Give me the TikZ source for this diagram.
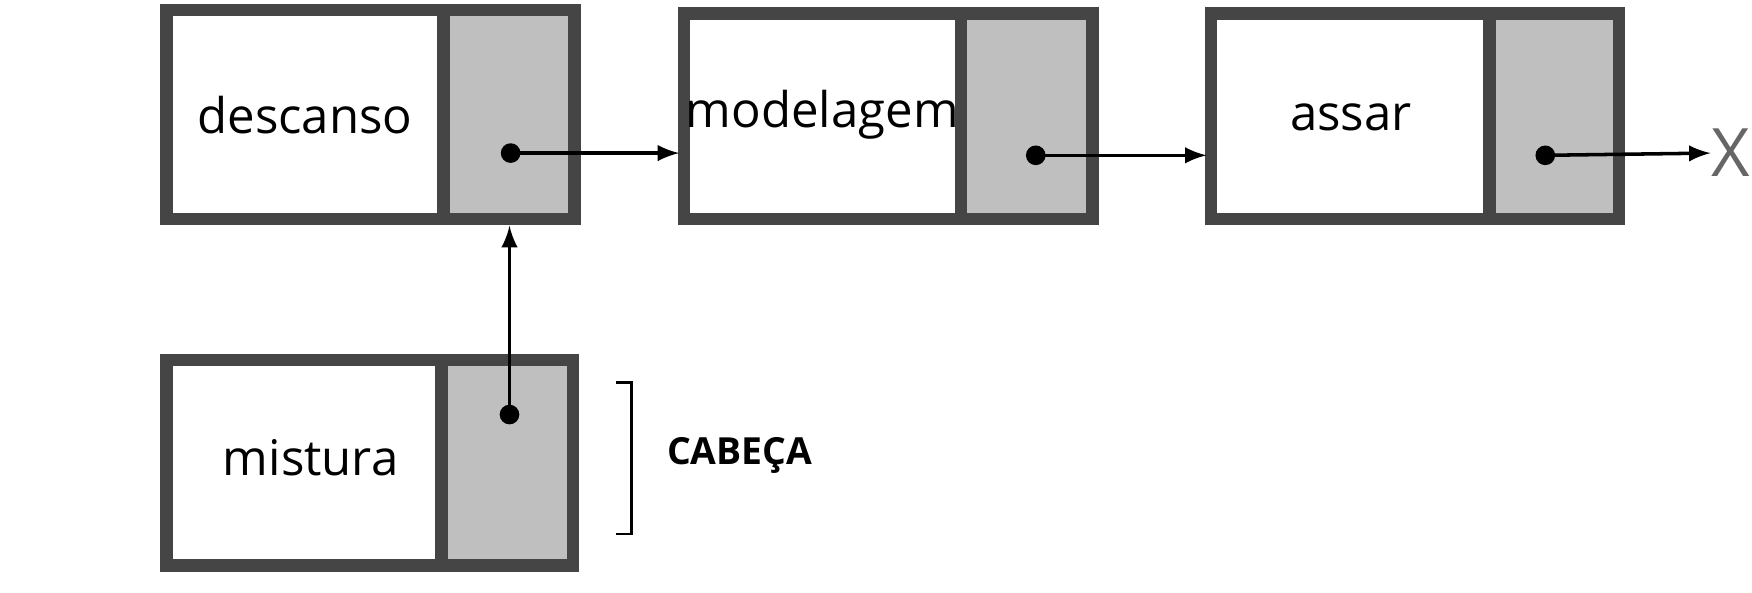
\documentclass[tikz,border=0pt]{standalone}
\usepackage{fontspec}
\setmainfont{Open Sans}
\begin{document}
\begin{tikzpicture}[x=0.01cm,y=-0.01cm,
  frame/.style={draw=black!73,line width=3.2pt},
  cell/.style={frame,fill=white},
  ptr/.style={frame,fill=black!25},
  dotp/.style={circle,fill=black,inner sep=0pt,minimum size=5pt},
  link/.style={-latex,line width=0.9pt},
  lbl/.style={font=\fontsize{12.5}{14}\selectfont}]
\useasboundingbox (0,0) rectangle (1568,530);
% box 1
\draw[cell] (149,9) rectangle (397,196);
\draw[ptr] (397,9) rectangle (514,196);
\node[lbl] (t1) at (273,103) {descanso};
\node[dotp] (d1) at (457,137) {};
% box 2
\draw[cell] (612,12) rectangle (860,196);
\draw[ptr] (860,12) rectangle (978,196);
\node[lbl] (t2) at (736,103) {modelagem};
\node[dotp] (d2) at (927,139) {};
\coordinate (in2) at (608,137);
% box 3
\draw[cell] (1084,12) rectangle (1333,196);
\draw[ptr] (1333,12) rectangle (1449,196);
\node[lbl] (t3) at (1209,105) {assar};
\node[dotp] (d3) at (1383,139) {};
\coordinate (in3) at (1080,139);
% box 4
\draw[cell] (149,322) rectangle (395,506);
\draw[ptr] (395,322) rectangle (513,506);
\node[lbl] (t4) at (278,410) {mistura};
\node[dotp] (d4) at (456,371) {};
\coordinate (in1) at (456,202);
% X
\node[font=\fontsize{17}{18}\selectfont,text=black!60,inner sep=0pt] (X) at (1549,137) {X};
% arrows
\draw[link] (d1.center) -- (in2);
\draw[link] (d2.center) -- (in3);
\draw[link] (d3.center) -- (X.west);
\draw[link] (d4.center) -- (in1);
% bracket
\draw[line width=0.7pt] (551,342) -- (565,342) -- (565,478) -- (551,478);
\node[font=\fontsize{9.5}{11}\selectfont\bfseries] (cab) at (662,408) {CABEÇA};
\end{tikzpicture}
\end{document}
